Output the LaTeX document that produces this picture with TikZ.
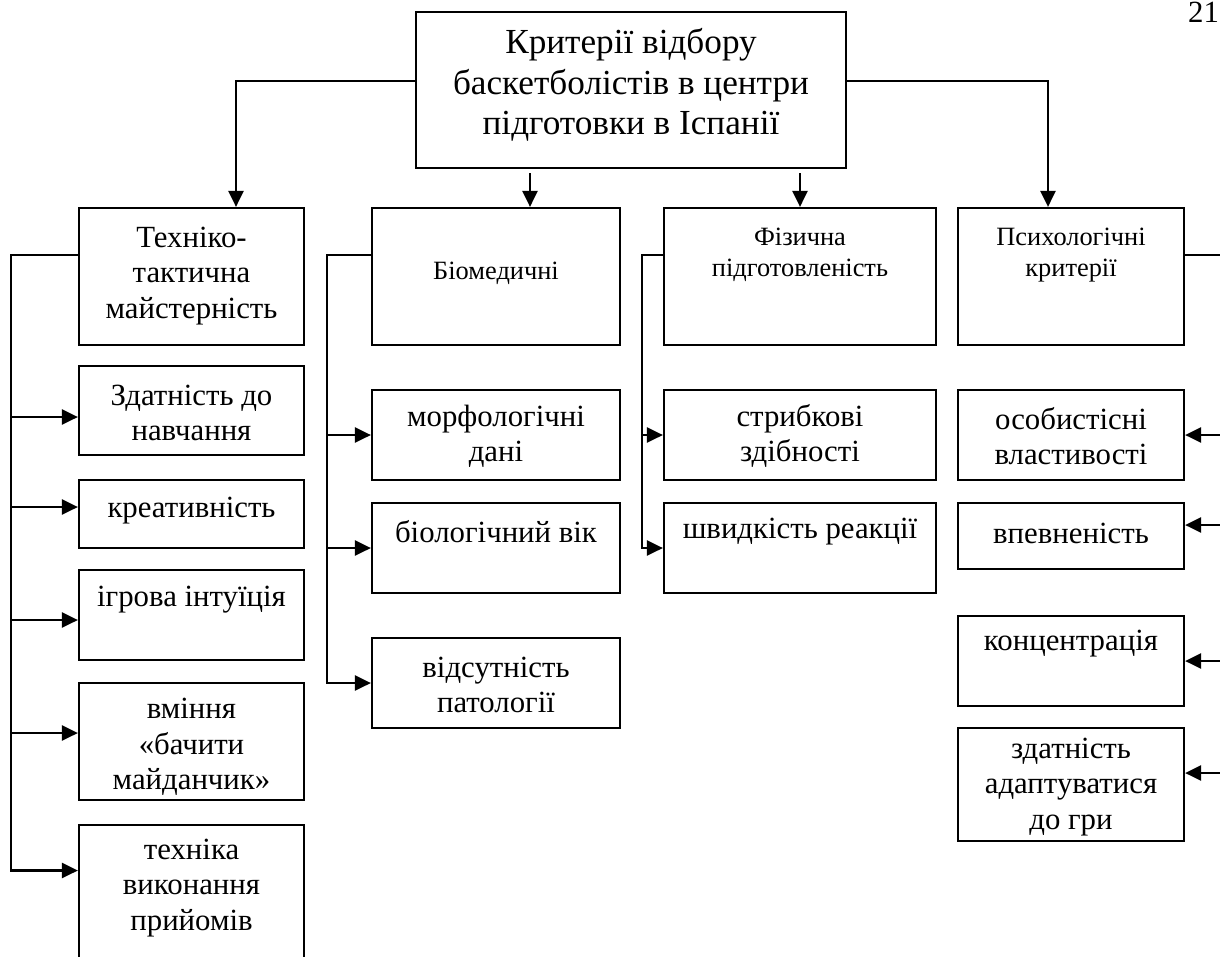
\documentclass[tikz,border=0pt]{standalone}
\usepackage{fontspec}
\setmainfont{Liberation Serif}
\usetikzlibrary{arrows.meta}

\tikzset{
  frame/.style={draw, line width=2.2pt, inner sep=0pt},
  lblbig/.style={align=center, inner sep=0pt, font=\fontsize{35.2}{40.5}\selectfont},
  lbl/.style={align=center, inner sep=0pt, font=\fontsize{30.8}{35.4}\selectfont},
  lblsmall/.style={align=center, inner sep=0pt, font=\fontsize{26.4}{31}\selectfont},
  link/.style={line width=2.4pt},
  arr/.style={link, -{Triangle[length=16pt,width=15pt]}},
}

% name, x1, y1, x2, y2, text style, text centre y, text
\newcommand\critbox[8]{%
  \pgfmathsetmacro\bw{#4-#2}%
  \pgfmathsetmacro\bh{#5-#3}%
  \node[frame, minimum width=\bw pt, minimum height=\bh pt] (#1) at ({(#2+#4)/2},{(#3+#5)/2}) {};
  \node[#6] (#1-txt) at ({(#2+#4)/2},#7) {#8};
}

\begin{document}
\begin{tikzpicture}[x=1pt, y=-1pt]
\useasboundingbox (0,0) rectangle (1220,956);
\clip (0,0) rectangle (1220,956);

% page number
\node[lbl, anchor=base west] (pg) at (1188,22) {21};

% root
\critbox{top}{416}{12}{846}{168}{lblbig}{85}{Критерії відбору\\баскетболістів в центри\\підготовки в Іспанії}

% main groups
\critbox{b1}{79}{208}{304}{345}{lbl}{276}{Техніко-\\тактична\\майстерність}
\critbox{b2}{372}{208}{620}{345}{lblsmall}{273}{Біомедичні}
\critbox{b3}{664}{208}{936}{345}{lblsmall}{255}{Фізична\\підготовленість}
\critbox{b4}{958}{208}{1184}{345}{lblsmall}{255}{Психологічні\\критерії}

% technical and tactical skill
\critbox{c11}{79}{366}{304}{455}{lbl}{413}{Здатність до\\навчання}
\critbox{c12}{79}{480}{304}{548}{lbl}{511}{креативність}
\critbox{c13}{79}{570}{304}{660}{lbl}{600}{ігрова інтуїція}
\critbox{c14}{79}{683}{304}{800}{lbl}{747}{вміння\\«бачити\\майданчик»}
\critbox{c15}{79}{825}{304}{965}{lbl}{888}{техніка\\виконання\\прийомів}

% biomedical
\critbox{c21}{372}{390}{620}{480}{lbl}{436}{морфологічні\\дані}
\critbox{c22}{372}{503}{620}{593}{lbl}{532}{біологічний вік}
\critbox{c23}{372}{638}{620}{728}{lbl}{685}{відсутність\\патології}

% physical fitness
\critbox{c31}{664}{390}{936}{480}{lbl}{436}{стрибкові\\здібності}
\critbox{c32}{664}{503}{936}{593}{lbl}{532}{швидкість реакції}

% psychological
\critbox{c41}{958}{390}{1184}{480}{lbl}{436}{особистісні\\властивості}
\critbox{c42}{958}{503}{1184}{569}{lbl}{533}{впевненість}
\critbox{c43}{958}{616}{1184}{706}{lbl}{644}{концентрація}
\critbox{c44}{958}{728}{1184}{841}{lbl}{787}{здатність\\адаптуватися\\до гри}

% root to groups
\draw[arr] ([yshift=9pt]top.west) -| ([xshift=44.5pt]b1.north);
\draw[arr] ([yshift=9pt]top.east) -| ([xshift=-23pt]b4.north);
\draw[arr] ([xshift=-101pt,yshift=-4pt]top.south) -- ([xshift=34pt]b2.north);
\draw[arr] ([xshift=169pt,yshift=-4pt]top.south) -- (b3.north);

% branch end points
\path ([yshift=-6.5pt]c11.west) coordinate (e11);
\path ([yshift=7pt]c12.west) coordinate (e12);
\path ([yshift=-5pt]c13.west) coordinate (e13);
\path ([yshift=8.5pt]c14.west) coordinate (e14);
\path ([yshift=24.5pt]c15.west) coordinate (e15);
\path (c21.west) coordinate (e21);
\path (c22.west) coordinate (e22);
\path (c23.west) coordinate (e23);
\path (c31.west) coordinate (e31);
\path (c32.west) coordinate (e32);
\path (c41.east) coordinate (e41);
\path ([yshift=11pt]c42.east) coordinate (e42);
\path (c43.east) coordinate (e43);
\path ([yshift=11.5pt]c44.east) coordinate (e44);

% trunks
\coordinate (tr1) at (11,255);
\coordinate (tr2) at (327,255);
\coordinate (tr3) at (642,255);
\coordinate (tr4) at (1228,255);

\draw[arr] ([yshift=21.5pt]b1.west) -- (tr1) |- (e15);
\foreach \e in {e11,e12,e13,e14} \draw[arr] (tr1 |- \e) -- (\e);

\draw[arr] ([yshift=21.5pt]b2.west) -- (tr2) |- (e23);
\foreach \e in {e21,e22} \draw[arr] (tr2 |- \e) -- (\e);

\draw[arr] ([yshift=21.5pt]b3.west) -- (tr3) |- (e32);
\draw[arr] (tr3 |- e31) -- (e31);

\draw[arr] ([yshift=21.5pt]b4.east) -- (tr4) |- (e44);
\foreach \e in {e41,e42,e43} \draw[arr] (tr4 |- \e) -- (\e);
\end{tikzpicture}
\end{document}
